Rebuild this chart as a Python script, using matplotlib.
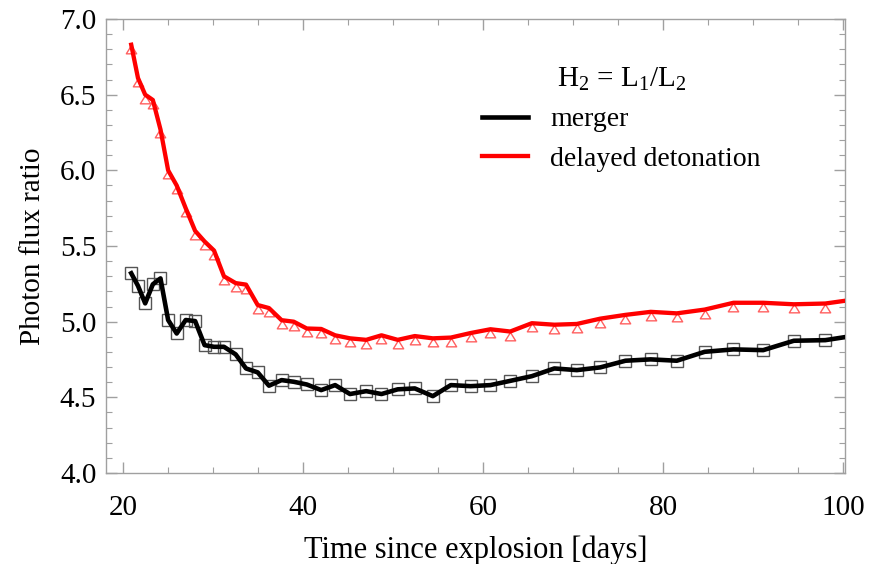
import numpy as np
import matplotlib
matplotlib.use('Agg')
import matplotlib.pyplot as plt
from matplotlib.path import Path
from matplotlib.ticker import MultipleLocator

# epochs (days since explosion) shared by both models
days = [20.9, 21.65, 22.45, 23.3, 24.15, 25.0, 25.95, 26.95, 28.0, 29.05,
        30.1, 31.2, 32.5, 33.65, 34.95, 36.2, 37.6, 38.95, 40.4, 42.0,
        43.55, 45.2, 47.0, 48.7, 50.5, 52.4, 54.4, 56.4, 58.6, 60.8,
        63.0, 65.4, 67.9, 70.4, 73.0, 75.8, 78.6, 81.5, 84.6, 87.8,
        91.1, 94.5, 98.0]

merger = [5.32, 5.237, 5.121, 5.247, 5.286, 5.011, 4.922, 5.011, 5.004, 4.845,
          4.834, 4.834, 4.784, 4.691, 4.665, 4.577, 4.614, 4.603, 4.585, 4.548,
          4.581, 4.522, 4.541, 4.522, 4.553, 4.559, 4.508, 4.581, 4.574, 4.581,
          4.609, 4.640, 4.691, 4.68, 4.698, 4.742, 4.751, 4.742, 4.801, 4.817,
          4.812, 4.874, 4.878]

ddt = [6.83, 6.61, 6.50, 6.465, 6.27, 6.00, 5.90, 5.75, 5.60, 5.53,
       5.47, 5.30, 5.255, 5.245, 5.11, 5.09, 5.01, 5.00, 4.955, 4.952,
       4.91, 4.89, 4.88, 4.91, 4.88, 4.905, 4.89, 4.895, 4.925, 4.95,
       4.935, 4.99, 4.98, 4.985, 5.02, 5.045, 5.065, 5.055, 5.08, 5.125,
       5.125, 5.115, 5.12]

# curves run on to the right frame edge
end_day = 100.4
merger_end = 4.90
ddt_end = 5.14

plt.rcParams['font.family'] = ['Liberation Serif', 'DejaVu Serif']
plt.rcParams['mathtext.fontset'] = 'custom'
plt.rcParams['mathtext.rm'] = 'Liberation Serif'
plt.rcParams['mathtext.it'] = 'Liberation Serif:italic'

fig = plt.figure(figsize=(8.82, 5.64), dpi=100)
ax = fig.add_axes([0.1202, 0.1613, 0.838, 0.8050])

# open triangle hanging below its data point
tri = Path([(0, 0), (-0.62, -1.0), (0.62, -1.0), (0, 0)],
           [Path.MOVETO, Path.LINETO, Path.LINETO, Path.CLOSEPOLY])

ax.plot(days, merger, ls='none', marker='s', ms=8.5, mfc='none',
        mec='#555555', mew=1.0, zorder=2)
ax.plot(days, ddt, ls='none', marker=tri, ms=12, mfc='none',
        mec='#ff6060', mew=1.0, zorder=2)

ax.plot(days + [end_day], merger + [merger_end], color='black', lw=3.3,
        solid_joinstyle='round', label='merger', zorder=3)
ax.plot(days + [end_day], ddt + [ddt_end], color='#ff0000', lw=3.1,
        solid_joinstyle='round', label='delayed detonation', zorder=3)

ax.set_xlim(18.1, 100.2)
ax.set_ylim(4.0, 7.0)
ax.xaxis.set_major_locator(MultipleLocator(20))
ax.xaxis.set_minor_locator(MultipleLocator(5))
ax.yaxis.set_major_locator(MultipleLocator(0.5))
ax.yaxis.set_minor_locator(MultipleLocator(0.1))
ax.yaxis.set_major_formatter(matplotlib.ticker.FormatStrFormatter('%.1f'))

frame_col = '#a0a0a0'
for s in ax.spines.values():
    s.set_color(frame_col)
    s.set_linewidth(1.0)
ax.tick_params(which='both', direction='in', top=True, right=True,
               color=frame_col, labelsize=21)
ax.tick_params(axis='x', pad=16)
ax.tick_params(axis='y', pad=7)
ax.tick_params(which='major', length=8, width=1.0)
ax.tick_params(which='minor', length=4, width=0.8)

ax.set_xlabel('Time since explosion [days]', fontsize=22, labelpad=10)
ax.set_ylabel('Photon flux ratio', fontsize=21, labelpad=10)

leg = ax.legend(title=r'H$_2$ = L$_1$/L$_2$', loc='upper left',
                bbox_to_anchor=(0.475, 0.952), frameon=False, fontsize=20,
                title_fontsize=21, handlelength=1.65, handletextpad=0.8,
                labelspacing=0.5)
leg.get_title().set_ha('center')

fig.savefig('out.png', dpi=100)
